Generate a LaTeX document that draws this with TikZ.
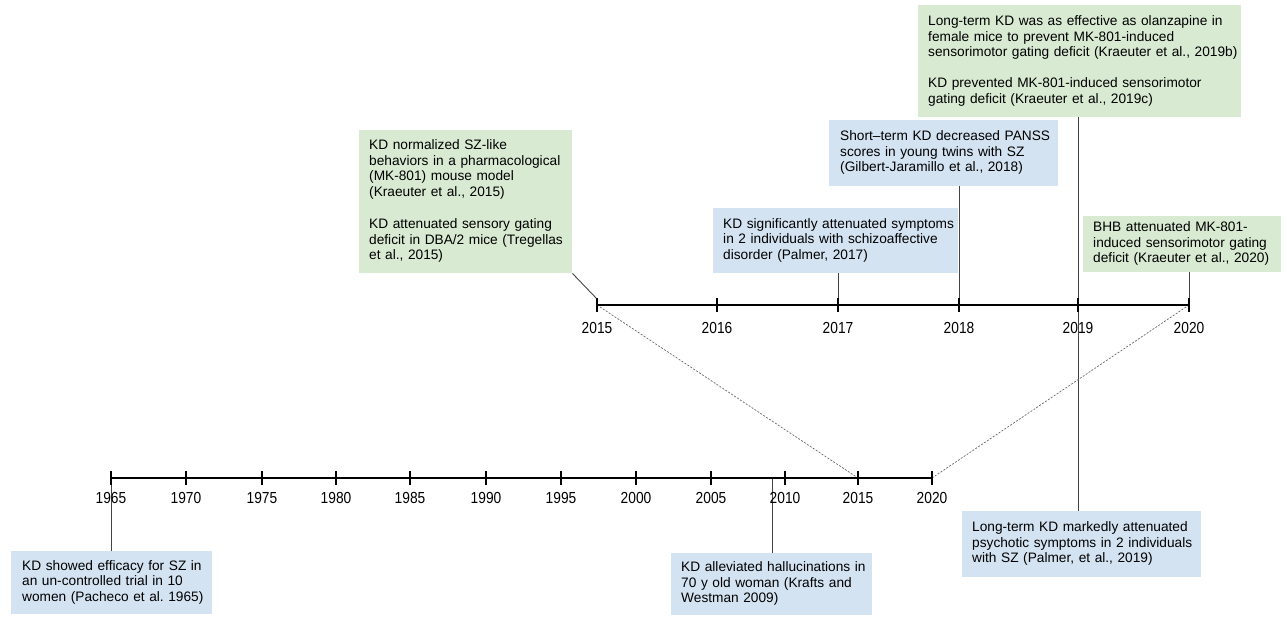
\documentclass[tikz,border=0pt]{standalone}
\usepackage{fontspec}
\setmainfont{Liberation Sans}
\usepackage{graphicx}
\frenchspacing
\definecolor{grn}{HTML}{D9EAD3}
\definecolor{blu}{HTML}{D4E3F2}
\definecolor{conn}{HTML}{444444}
\newcommand\boxlines[1]{\begin{tabular}[c]{@{}l@{}}#1\end{tabular}}
\begin{document}
\begin{tikzpicture}[x=1pt,y=-1pt,
  box/.style={anchor=north west, inner xsep=10pt, inner ysep=0pt, align=left,
    font=\fontsize{13.7}{15.5}\selectfont},
  gbox/.style={box, fill=grn},
  bbox/.style={box, fill=blu},
  axis/.style={line width=2.8pt},
  tickmark/.style={line width=2.3pt},
  link/.style={conn, line width=0.9pt},
  zoomline/.style={gray!80!black, line width=0.7pt, dash pattern=on 2pt off 1.5pt},
  year/.style={font=\fontsize{16}{17}\selectfont, inner sep=0pt}
]
\useasboundingbox (0,0) rectangle (1287,617);
% ---- lower timeline coordinates
\foreach \yr/\xx in {1965/111,1970/186,1975/262,1980/336,1985/410,1990/486,1995/561,2000/636,2005/711,2010/785,2015/858,2020/932}{
  \coordinate (L\yr) at (\xx,478);
}
% ---- upper timeline coordinates
\foreach \yr/\xx in {2015/597,2016/717,2017/838,2018/959,2019/1078,2020/1189}{
  \coordinate (U\yr) at (\xx,305);
}
% free ends of connectors
\coordinate (t2017) at (838,305);
\coordinate (t2018) at (959,305);
\coordinate (t2020) at (1189,305);
\coordinate (t2015) at (597,299);
\coordinate (b1965) at (111,478);
\coordinate (b2009) at (772,478);
\coordinate (b2019) at (1078,117);

% ---- connectors (drawn first, boxes cover them)
\draw[link] (b2019) -- (1078,511);
\draw[link] (959,186) -- (t2018);

% ---- boxes
\node[gbox, minimum width=213pt, minimum height=143pt, text width=193pt] (A) at (359,130)
 {\boxlines{KD normalized SZ-like\\behaviors in a pharmacological\\(MK-801) mouse model\\(Kraeuter et al., 2015)\\[17pt]KD attenuated sensory gating\\deficit in DBA/2 mice (Tregellas\\et al., 2015)}};
\node[gbox, minimum width=323pt, minimum height=112pt, text width=303pt] (B) at (918,5)
 {\boxlines{Long-term KD was as effective as olanzapine in\\female mice to prevent MK-801-induced\\sensorimotor gating deficit (Kraeuter et al., 2019b)\\[15.5pt]KD prevented MK-801-induced sensorimotor\\gating deficit (Kraeuter et al., 2019c)}};
\node[bbox, minimum width=229pt, minimum height=66pt, text width=207pt, inner xsep=11pt] (C) at (829,120)
 {\boxlines{Short–term KD decreased PANSS\\scores in young twins with SZ\\(Gilbert-Jaramillo et al., 2018)}};
\node[bbox, minimum width=245pt, minimum height=65pt, text width=225pt] (D) at (713,208)
 {\boxlines{KD significantly attenuated symptoms\\in 2 individuals with schizoaffective\\disorder (Palmer, 2017)}};
\node[gbox, minimum width=198pt, minimum height=56pt, text width=178pt] (E) at (1083,216)
 {\boxlines{BHB attenuated MK-801-\\induced sensorimotor gating\\deficit (Kraeuter et al., 2020)}};
\node[bbox, minimum width=201pt, minimum height=63pt, text width=179pt, inner xsep=11pt] (F) at (11,551)
 {\boxlines{KD showed efficacy for SZ in\\an un-controlled trial in 10\\women (Pacheco et al. 1965)}};
\node[bbox, minimum width=201pt, minimum height=62pt, text width=181pt] (G) at (671,553)
 {\boxlines{KD alleviated hallucinations in\\70 y old woman (Krafts and\\Westman 2009)}};
\node[bbox, minimum width=239pt, minimum height=66pt, text width=219pt] (H) at (962,511)
 {\boxlines{Long-term KD markedly attenuated\\psychotic symptoms in 2 individuals\\with SZ (Palmer, et al., 2019)}};

% ---- connectors
\draw[link] (A.south east) -- (t2015);
\draw[link] (D.south -| t2017) -- (t2017);
\draw[link] (E.south -| t2020) -- (t2020);
\draw[link] (b1965) -- (F.north -| b1965);
\draw[link] (b2009) -- (G.north -| b2009);
% ---- zoom dashed lines
\draw[zoomline] (U2015) -- (L2015);
\draw[zoomline] (U2020) -- (L2020);

% ---- timelines
\draw[axis] (L1965) -- (L2020);
\foreach \yr in {1965,1970,1975,1980,1985,1990,1995,2000,2005,2010,2015,2020}{
  \draw[tickmark] ([yshift=-7pt]L\yr) -- ([yshift=7pt]L\yr);
  \node[year] (lab\yr) at ([yshift=-20pt]L\yr) {\scalebox{0.86}[1]{\yr}};
}
\draw[axis] (U2015) -- (U2020);
\foreach \yr in {2015,2016,2017,2018,2019,2020}{
  \draw[tickmark] ([yshift=-7pt]U\yr) -- ([yshift=7pt]U\yr);
  \node[year] (ulab\yr) at ([yshift=-23pt]U\yr) {\scalebox{0.86}[1]{\yr}};
}
\end{tikzpicture}
\end{document}
